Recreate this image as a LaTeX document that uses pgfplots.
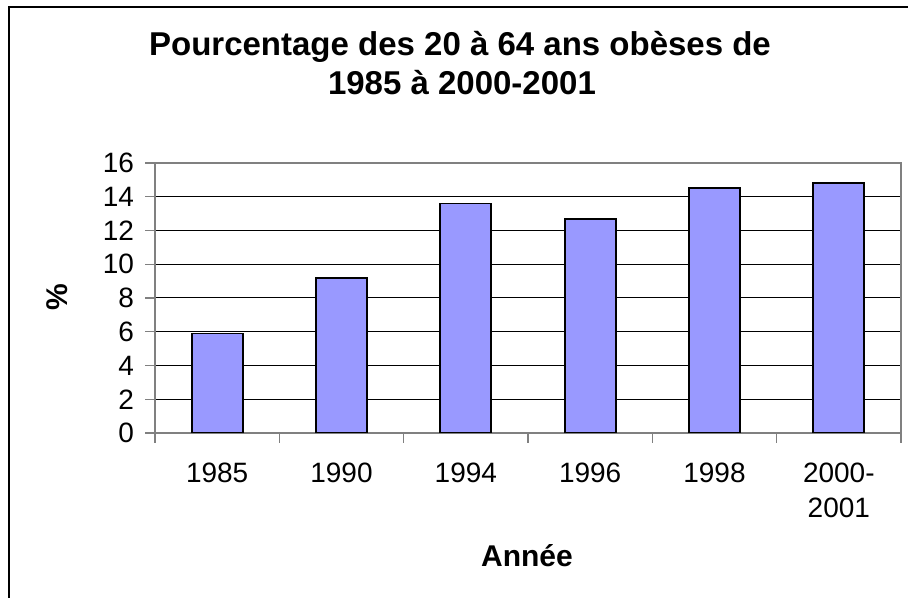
\documentclass[border=0pt]{standalone}
\usepackage{pgfplots}
\pgfplotsset{compat=1.18}
\usepackage{fontspec}
\setmainfont{Liberation Sans}
\definecolor{barblue}{HTML}{9999FF}
\definecolor{framegray}{HTML}{808080}

\begin{document}
\begin{tikzpicture}
  % page = 908x598 px, 1 px = 0.5pt
  \useasboundingbox (0,0) rectangle (454pt,299pt);
  \fill[white] (0,0) rectangle (454pt,299pt);
  % outer chart frame (only left and top are visible)
  \draw[line width=1.2pt] (4.5pt,-5pt) -- (4.5pt,295.5pt) -- (460pt,295.5pt);

  \begin{axis}[
      at={(77.5pt,82.5pt)}, anchor=south west,
      scale only axis,
      width=373pt, height=135pt,
      xmin=-0.5, xmax=5.5,
      ymin=0, ymax=16,
      ytick={0,2,...,16},
      xtick={-0.5,0.5,...,5.5},
      xticklabels={},
      extra x ticks={0,1,2,3,4,5},
      extra x tick labels={1985,1990,1994,1996,1998,{2000-\\2001}},
      extra x tick style={major tick length=0pt, grid=none},
      xtick pos=bottom, ytick pos=left,
      tick align=outside,
      major tick length=5pt,
      tick style={framegray, line width=0.6pt},
      axis line style={framegray, line width=0.8pt},
      ymajorgrids=true,
      grid style={black, line width=0.5pt},
      /pgf/number format/assume math mode=true,
      ticklabel style={font=\fontsize{14}{17.5}\selectfont},
      xticklabel style={align=center, yshift=-11.5pt},
      yticklabel style={xshift=-2pt},
      ybar, bar width=25.5pt,
    ]
    \addplot[fill=barblue, draw=black, line width=0.9pt] coordinates {
      (0,5.9) (1,9.2) (2,13.6) (3,12.7) (4,14.5) (5,14.8)
    };
  \end{axis}

  % title
  \node[anchor=base, font=\bfseries\fontsize{16.5}{19}\selectfont] at (230pt,271pt)
    {Pourcentage des 20 à 64 ans obèses de};
  \node[anchor=base, font=\bfseries\fontsize{16.5}{19}\selectfont] at (231pt,251.5pt)
    {1985 à 2000-2001};
  % axis titles
  \node[anchor=base, font=\bfseries\fontsize{15}{18}\selectfont] at (263.5pt,15.5pt) {Année};
  \node[rotate=90, font=\bfseries\fontsize{15}{18}\selectfont] at (28.5pt,150.5pt) {\%};
\end{tikzpicture}
\end{document}
